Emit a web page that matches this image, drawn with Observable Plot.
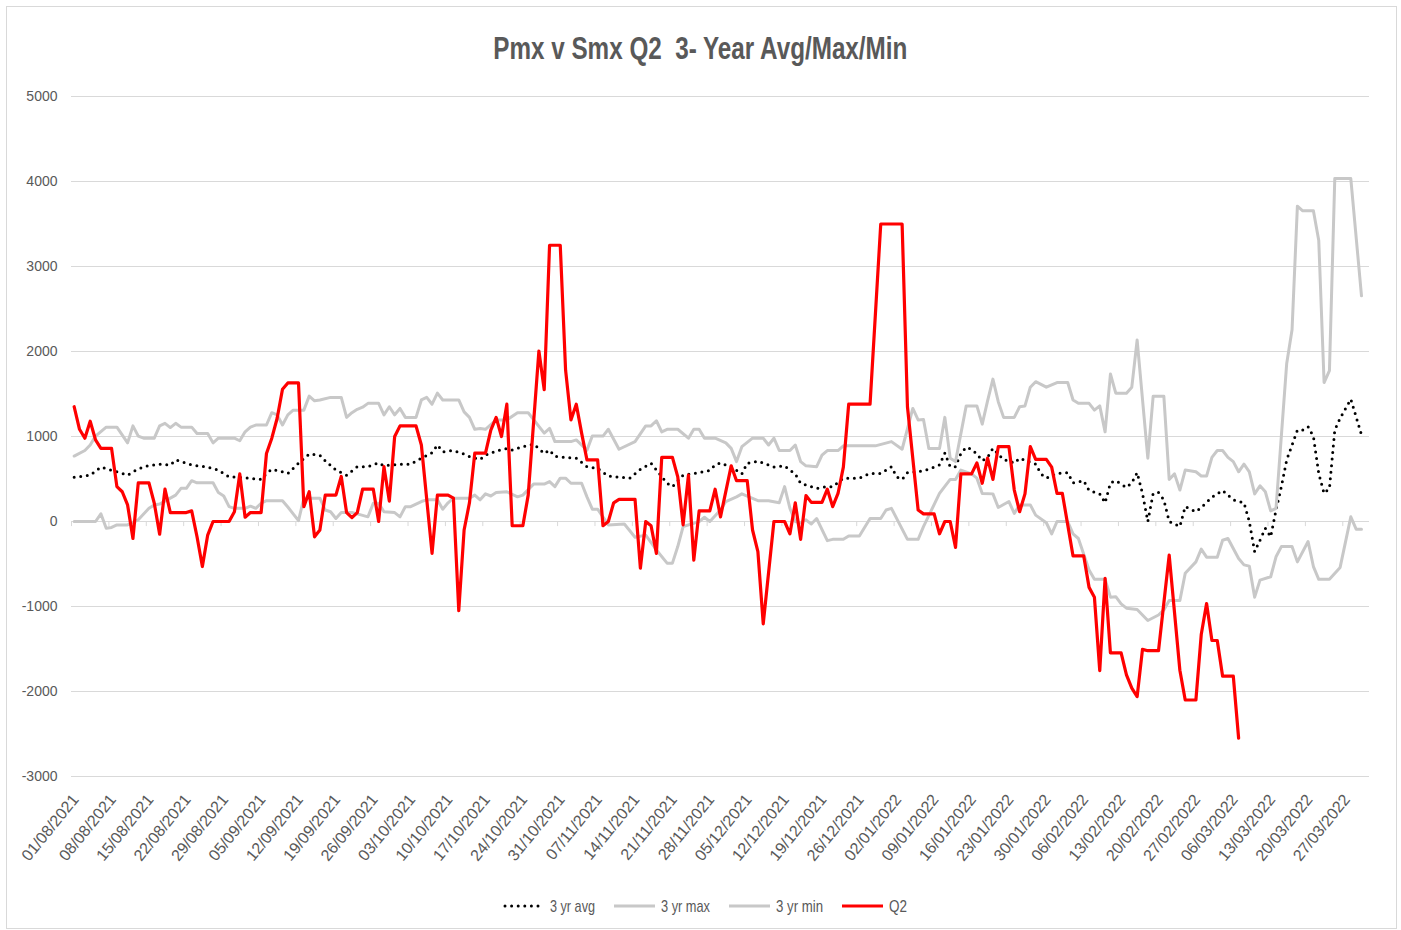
<!DOCTYPE html>
<html><head><meta charset="utf-8">
<script src="https://cdn.jsdelivr.net/npm/d3@7"></script>
<script src="https://cdn.jsdelivr.net/npm/@observablehq/plot@0.6"></script>
<style>
body{margin:0;background:#fff;}
#wrap{position:relative;width:1401px;height:930px;overflow:hidden;font-family:"Liberation Sans",Arial,sans-serif;}
#frame{position:absolute;left:6px;top:6px;width:1391px;height:923px;border:1px solid #d9d9d9;box-sizing:border-box;}
#chart{position:absolute;left:0;top:0;}
#title{position:absolute;left:0;top:32px;width:1401px;text-align:center;line-height:32px;}
#title span{display:inline-block;font-weight:bold;font-size:32px;color:#595959;white-space:pre;transform-origin:center;}
#legend{position:absolute;left:0;top:894px;}
</style>
</head><body>
<div id="wrap">
  <div id="frame"></div>
  <div id="chart"></div>
  <div id="title"><span id="titleText"></span></div>
  <svg id="legend" width="1401" height="26"></svg>
</div>
<script>
const titleText = "Pmx v Smx Q2  3- Year Avg/Max/Min";
const seriesNames = ["3 yr avg", "3 yr max", "3 yr min", "Q2"];
const yTicks = [-3000, -2000, -1000, 0, 1000, 2000, 3000, 4000, 5000];
const xTickLabels = ["01/08/2021","08/08/2021","15/08/2021","22/08/2021","29/08/2021","05/09/2021","12/09/2021","19/09/2021","26/09/2021","03/10/2021","10/10/2021","17/10/2021","24/10/2021","31/10/2021","07/11/2021","14/11/2021","21/11/2021","28/11/2021","05/12/2021","12/12/2021","19/12/2021","26/12/2021","02/01/2022","09/01/2022","16/01/2022","23/01/2022","30/01/2022","06/02/2022","13/02/2022","20/02/2022","27/02/2022","06/03/2022","13/03/2022","20/03/2022","27/03/2022"];
const startDate = "01/08/2021";
const endDate = "01/04/2022";

// [day offset from 01/08/2021, value]
const avg3yr = [[0,520],[3,545],[5,640],[8,585],[10,545],[11,585],[13,645],[16,675],[18,665],[19,725],[22,665],[25,640],[27,605],[29,525],[31,520],[35,495],[36,565],[37,615],[39,585],[40,565],[42,685],[44,795],[46,780],[47,715],[49,605],[51,545],[53,645],[55,645],[57,690],[58,655],[61,675],[63,675],[65,745],[67,810],[68,900],[69,820],[71,835],[73,795],[74,765],[76,730],[77,780],[79,830],[81,860],[82,840],[84,880],[86,910],[87,860],[88,800],[89,840],[90,765],[94,745],[96,645],[98,625],[100,535],[104,510],[106,615],[108,685],[111,450],[112,410],[114,545],[116,565],[119,600],[120,665],[121,690],[122,665],[123,645],[125,560],[126,685],[128,710],[130,665],[131,640],[133,655],[134,605],[135,560],[136,450],[139,390],[141,410],[142,410],[144,510],[147,510],[149,565],[151,565],[153,645],[154,525],[155,495],[156,575],[158,585],[160,615],[162,665],[163,805],[164,645],[165,645],[166,800],[167,875],[168,850],[169,795],[170,715],[171,755],[172,860],[174,725],[175,715],[176,685],[177,745],[180,675],[181,560],[182,510],[184,565],[186,575],[187,455],[189,480],[190,365],[192,325],[193,220],[194,455],[195,480],[196,440],[197,400],[198,455],[199,575],[200,330],[201,0],[202,330],[203,340],[204,255],[205,0],[207,-60],[208,175],[210,115],[211,165],[213,285],[215,365],[217,255],[219,220],[220,0],[221,-355],[222,-220],[223,-80],[224,-180],[225,135],[226,410],[227,725],[229,1075],[230,1075],[231,1115],[232,1000],[233,565],[234,330],[235,390],[236,1075],[237,1215],[239,1440],[241,1020]];

const max3yr = [[0,770],[2,835],[3,900],[4,1005],[6,1110],[8,1110],[10,925],[11,1125],[12,1005],[13,980],[15,980],[16,1125],[17,1155],[18,1105],[19,1155],[20,1110],[22,1110],[23,1035],[25,1035],[26,925],[27,980],[30,980],[31,950],[32,1055],[33,1110],[34,1135],[36,1135],[37,1280],[38,1255],[39,1135],[40,1255],[41,1310],[43,1310],[44,1475],[45,1420],[46,1430],[48,1460],[50,1460],[51,1225],[52,1280],[53,1320],[54,1345],[55,1390],[57,1390],[58,1255],[59,1350],[60,1255],[61,1330],[62,1225],[64,1225],[65,1430],[66,1460],[67,1380],[68,1510],[69,1430],[72,1430],[73,1290],[74,1225],[75,1085],[76,1095],[77,1085],[79,1195],[81,1195],[83,1280],[85,1280],[88,1040],[89,1095],[90,940],[93,940],[94,960],[96,840],[97,1005],[99,1005],[100,1085],[102,850],[105,940],[107,1125],[108,1125],[109,1185],[110,1055],[111,1085],[113,1085],[115,980],[116,1085],[117,1085],[118,980],[120,980],[122,925],[123,860],[124,705],[125,880],[127,980],[129,980],[130,900],[131,980],[132,835],[134,835],[135,900],[136,705],[137,655],[139,645],[140,780],[141,835],[143,835],[144,890],[150,890],[153,940],[155,850],[157,1330],[158,1195],[159,1200],[160,860],[162,860],[163,1225],[164,745],[165,705],[167,1360],[169,1360],[170,1145],[171,1420],[172,1675],[173,1410],[174,1225],[176,1225],[177,1350],[178,1360],[179,1580],[180,1645],[182,1580],[184,1635],[186,1635],[187,1430],[188,1390],[190,1390],[191,1310],[192,1360],[193,1055],[194,1735],[195,1510],[197,1510],[198,1580],[199,2135],[201,745],[202,1475],[204,1475],[205,495],[206,560],[207,370],[208,605],[210,585],[211,535],[212,535],[213,755],[214,835],[215,835],[216,755],[217,705],[218,585],[219,675],[220,585],[221,325],[222,420],[223,350],[224,125],[225,155],[227,1860],[228,2255],[229,3710],[230,3655],[232,3655],[233,3305],[234,1635],[235,1775],[236,4035],[239,4035],[241,2655]];

const min3yr = [[0,0],[4,0],[5,90],[6,-80],[7,-70],[8,-40],[10,-40],[12,20],[14,155],[15,195],[16,205],[19,310],[20,390],[21,390],[22,480],[23,455],[26,455],[27,340],[28,300],[29,175],[30,155],[32,155],[33,180],[34,155],[35,215],[36,245],[39,245],[40,170],[42,10],[43,275],[46,275],[47,135],[48,115],[49,35],[50,105],[52,105],[53,90],[55,55],[56,215],[57,215],[58,115],[60,105],[61,55],[62,175],[63,175],[65,235],[66,255],[68,255],[69,145],[70,220],[71,275],[74,275],[75,310],[76,255],[77,325],[78,300],[79,340],[81,350],[83,290],[84,310],[86,440],[88,440],[89,470],[90,410],[91,510],[92,510],[93,450],[95,450],[96,290],[97,145],[98,145],[100,-40],[103,-30],[105,-185],[107,-160],[109,-335],[111,-490],[112,-490],[113,-295],[114,-60],[117,0],[118,50],[119,0],[121,135],[122,235],[124,290],[125,325],[128,245],[130,245],[132,220],[133,410],[134,155],[135,0],[136,-15],[137,20],[138,-30],[139,35],[141,-225],[142,-210],[144,-210],[145,-170],[147,-170],[149,35],[151,35],[152,135],[153,155],[156,-210],[158,-210],[159,-60],[162,330],[164,495],[165,495],[166,605],[168,560],[169,510],[170,330],[172,325],[173,165],[175,235],[176,95],[177,195],[179,195],[180,75],[182,-15],[183,-145],[184,0],[186,0],[187,-145],[188,-200],[190,-570],[191,-680],[193,-680],[194,-890],[195,-885],[196,-970],[197,-1020],[199,-1035],[201,-1165],[203,-1100],[204,-1040],[205,-930],[207,-930],[208,-610],[210,-475],[211,-325],[212,-420],[214,-420],[215,-220],[216,-200],[218,-435],[219,-510],[220,-525],[221,-890],[222,-690],[224,-650],[225,-415],[226,-295],[228,-295],[229,-475],[231,-235],[232,-530],[233,-680],[235,-680],[237,-540],[239,55],[240,-90],[241,-90]];

const q2 = [[0,1350],[1,1085],[2,980],[3,1180],[4,960],[5,860],[7,860],[8,410],[9,350],[10,195],[11,-200],[12,455],[14,455],[15,215],[16,-150],[17,380],[18,105],[21,105],[22,125],[23,-180],[24,-530],[25,-160],[26,0],[29,0],[30,115],[31,560],[32,50],[33,105],[35,105],[36,800],[37,980],[38,1215],[39,1555],[40,1630],[42,1630],[43,175],[44,350],[45,-180],[46,-100],[47,310],[49,310],[50,530],[51,105],[52,45],[53,105],[54,380],[56,380],[57,0],[58,645],[59,240],[60,1000],[61,1125],[64,1125],[65,900],[67,-375],[68,310],[70,310],[71,275],[72,-1050],[73,-100],[74,220],[75,805],[77,805],[78,1075],[79,1225],[80,1000],[81,1380],[82,-50],[84,-50],[85,310],[87,2005],[88,1550],[89,3250],[91,3250],[92,1780],[93,1195],[94,1380],[95,1040],[96,725],[98,725],[99,-50],[100,0],[101,220],[102,260],[105,260],[106,-550],[107,0],[108,-50],[109,-375],[110,755],[112,755],[113,525],[114,-40],[115,545],[116,-455],[117,125],[119,125],[120,380],[121,55],[123,655],[124,480],[126,480],[127,-100],[128,-355],[129,-1205],[131,0],[133,0],[134,-145],[135,220],[136,-210],[137,305],[138,225],[140,225],[141,380],[142,175],[143,330],[144,640],[145,1380],[149,1380],[151,3500],[155,3500],[156,1350],[158,135],[159,90],[161,90],[162,-145],[163,0],[164,0],[165,-305],[166,560],[168,560],[169,690],[170,450],[171,745],[172,495],[173,880],[175,880],[176,370],[177,115],[178,325],[179,880],[180,730],[182,730],[183,640],[184,330],[185,330],[187,-405],[189,-405],[190,-775],[191,-890],[192,-1755],[193,-670],[194,-1545],[196,-1545],[197,-1805],[198,-1960],[199,-2060],[200,-1505],[201,-1520],[203,-1520],[205,-395],[207,-1750],[208,-2100],[210,-2100],[211,-1330],[212,-965],[213,-1400],[214,-1400],[215,-1820],[217,-1820],[218,-2550]];

const colors = {avg: "#000000", max: "#c8c8c8", min: "#c8c8c8", q2: "#ff0000"};

const parseDMY = d3.utcParse("%d/%m/%Y");
const fmtDMY = d3.utcFormat("%d/%m/%Y");
const t0 = parseDMY(startDate);
const tEnd = parseDMY(endDate);
// points sit in the middle of each day's slot on the date axis
const toRows = pairs => pairs.map(([d, v]) => ({date: d3.utcHour.offset(d3.utcDay.offset(t0, d), 12), value: v}));
const tickDates = xTickLabels.map(parseDMY);

const font = '"Liberation Sans", Arial, sans-serif';
const chart = Plot.plot({
  width: 1401, height: 880,
  marginLeft: 71, marginRight: 32, marginTop: 96, marginBottom: 104,
  x: {type: "utc", domain: [t0, tEnd], label: null},
  y: {domain: [-3000, 5000], label: null},
  style: {background: "transparent", fontFamily: font, fontSize: "14px", color: "#595959", overflow: "visible"},
  marks: [
    Plot.gridY(yTicks, {stroke: "#d9d9d9", strokeOpacity: 1, strokeWidth: 1}),
    Plot.ruleX(tickDates, {x: d => d, y1: 0, y2: -60, stroke: "#d9d9d9", strokeOpacity: 1}),
    Plot.axisY(yTicks, {tickSize: 0, tickPadding: 14, tickFormat: d => String(d), fontSize: 14, fill: "#595959", label: null}),
    Plot.axisX(tickDates, {tickSize: 0, tickPadding: 20, dx: 4, tickRotate: -51, tickFormat: fmtDMY, fontSize: 16, fill: "#595959", label: null}),
    Plot.line(toRows(avg3yr), {x: "date", y: "value", stroke: colors.avg, strokeWidth: 3, strokeDasharray: "0 6.6", strokeLinecap: "round"}),
    Plot.line(toRows(max3yr), {x: "date", y: "value", stroke: colors.max, strokeWidth: 3, strokeLinejoin: "round"}),
    Plot.line(toRows(min3yr), {x: "date", y: "value", stroke: colors.min, strokeWidth: 3, strokeLinejoin: "round"}),
    Plot.line(toRows(q2), {x: "date", y: "value", stroke: colors.q2, strokeWidth: 3.2, strokeLinejoin: "round"})
  ]
});
document.getElementById("chart").appendChild(chart);

// title
const ts = document.getElementById("titleText");
ts.textContent = titleText;
const tw = ts.getBoundingClientRect().width;
ts.style.transform = `scaleX(${414 / tw})`;

// legend (condensed text as in the original)
const NS = "http://www.w3.org/2000/svg";
const legend = document.getElementById("legend");
const itemLayout = [
  {x: 503, tw: 45, dash: "0 6.6", cap: "round", color: colors.avg},
  {x: 614, tw: 49, dash: null, cap: "butt", color: colors.max},
  {x: 729, tw: 47, dash: null, cap: "butt", color: colors.min},
  {x: 842, tw: 18, dash: null, cap: "butt", color: colors.q2}
];
seriesNames.forEach((name, i) => {
  const L = itemLayout[i];
  const ln = document.createElementNS(NS, "line");
  ln.setAttribute("x1", L.x + (L.dash ? 2 : 0)); ln.setAttribute("x2", L.x + 41);
  ln.setAttribute("y1", 12); ln.setAttribute("y2", 12);
  ln.setAttribute("stroke", L.color); ln.setAttribute("stroke-width", 3);
  ln.setAttribute("stroke-linecap", L.cap);
  if (L.dash) ln.setAttribute("stroke-dasharray", L.dash);
  legend.appendChild(ln);
  const tx = document.createElementNS(NS, "text");
  tx.setAttribute("x", L.x + 47); tx.setAttribute("y", 18);
  tx.setAttribute("font-size", 17); tx.setAttribute("fill", "#595959");
  tx.setAttribute("font-family", font);
  tx.setAttribute("textLength", L.tw); tx.setAttribute("lengthAdjust", "spacingAndGlyphs");
  tx.textContent = name;
  legend.appendChild(tx);
});
</script>
</body></html>
